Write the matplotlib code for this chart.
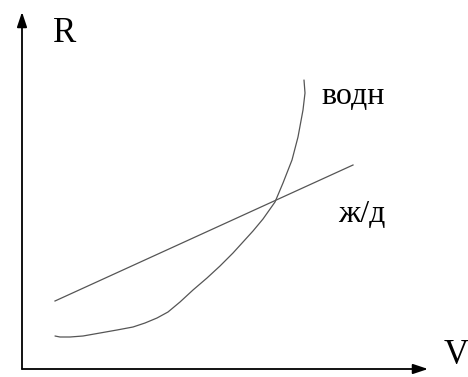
import matplotlib
matplotlib.use("Agg")
import matplotlib.pyplot as plt

# Data (arbitrary units: V along x, R along y)
vodn_v = [33, 38, 48, 61, 78, 95, 111, 123, 135, 146, 158, 171, 185, 198, 211, 221, 231, 241, 253, 261, 270, 276, 281, 283, 282]
vodn_r = [33, 32, 32, 33, 36, 39, 42, 46, 51, 57, 67, 79, 91, 103, 116, 127, 138, 150, 167, 186, 209, 232, 259, 276, 289]
zhd_v = [33, 331]
zhd_r = [68, 204]

axis_labels = ["V", "R"]
series_labels = ["водн", "ж/д"]

plt.rcParams['font.family'] = ['Liberation Serif', 'DejaVu Serif']

fig = plt.figure(figsize=(4.68, 3.77), dpi=100)
ax = fig.add_axes([0, 0, 1, 1])
ax.set_xlim(-22, 446)
ax.set_ylim(-8, 369)
ax.axis('off')

curve_color = '#555555'
ax.plot(vodn_v, vodn_r, color=curve_color, lw=0.9, solid_joinstyle='round', solid_capstyle='round')
ax.plot(zhd_v, zhd_r, color=curve_color, lw=0.9)

# axes arrows
ap = dict(arrowstyle='-|>,head_length=0.9,head_width=0.3', color='black', lw=1.3,
          shrinkA=0, shrinkB=0)
ax.annotate('', xy=(406, 0), xytext=(0, 0), arrowprops=ap)
ax.annotate('', xy=(0, 357), xytext=(0, 0), arrowprops=ap)

ax.text(434, 13, axis_labels[0], fontsize=25, ha='center', va='center')
ax.text(43, 335, axis_labels[1], fontsize=25, ha='center', va='center')
ax.text(331, 273, series_labels[0], fontsize=23, ha='center', va='center')
ax.text(340, 155, series_labels[1], fontsize=23, ha='center', va='center')

fig.savefig('out.png', dpi=100, facecolor='white')
